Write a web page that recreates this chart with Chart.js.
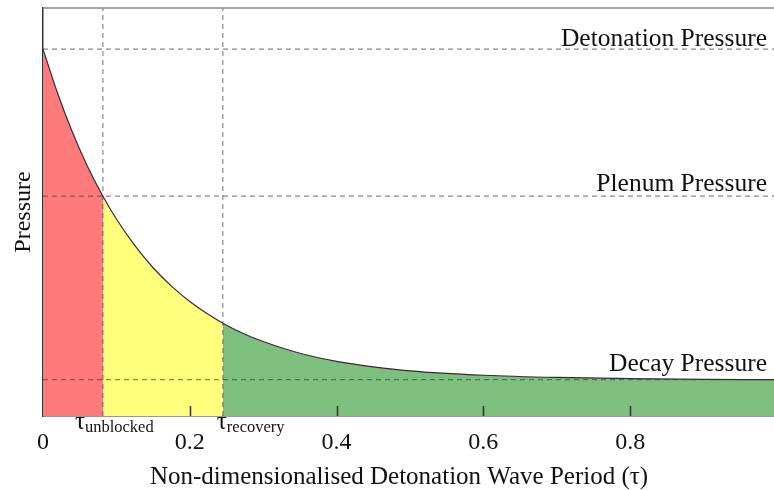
<!DOCTYPE html>
<html>
<head>
<meta charset="utf-8">
<script src="https://cdn.jsdelivr.net/npm/chart.js@4.4.1/dist/chart.umd.min.js"></script>
<style>
  html, body { margin: 0; padding: 0; background: #ffffff; }
  #wrap { width: 774px; height: 490px; position: relative; }
</style>
</head>
<body>
<div id="wrap"><canvas id="c" width="774" height="490"></canvas></div>
<script>
// ---- data ----
const tau = [0, 0.02, 0.04, 0.06, 0.0816, 0.1, 0.125, 0.15, 0.175, 0.2, 0.225, 0.245,
             0.275, 0.3, 0.35, 0.4, 0.45, 0.5, 0.6, 0.7, 0.8, 0.9, 0.996];
const pressure = [1.000, 0.879, 0.774, 0.683, 0.599, 0.537, 0.465, 0.404, 0.354, 0.312, 0.277, 0.253,
                  0.223, 0.203, 0.171, 0.149, 0.134, 0.123, 0.111, 0.105, 0.102, 0.100, 0.099];
const tauUnblocked = 0.0816;
const tauRecovery = 0.245;
const levelNames = ["Detonation Pressure", "Plenum Pressure", "Decay Pressure"];
const levelValues = [1.0, 0.599, 0.099];
const xTickValues = [0, 0.2, 0.4, 0.6, 0.8];
const xTickLabels = ["0", "0.2", "0.4", "0.6", "0.8"];
const xMin = 0, xMax = 0.996;
const yMin = 0, yMax = 1.112;
const xTitle = "Non-dimensionalised Detonation Wave Period (\u03C4)";
const yTitle = "Pressure";
const tauLabels = [["\u03C4", "unblocked"], ["\u03C4", "recovery"]];

// ---- build datasets ----
const pts = tau.map((t, i) => ({ x: t, y: pressure[i] }));
const iU = tau.indexOf(tauUnblocked);
const iR = tau.indexOf(tauRecovery);
const SERIF = "'Liberation Serif', 'Times New Roman', serif";

function fillSet(data, color) {
  return { data, backgroundColor: color, borderWidth: 0, pointRadius: 0, fill: 'origin',
           cubicInterpolationMode: 'monotone', order: 5 };
}
const dashColor = 'rgba(60,60,60,0.6)';
function dashSet(data) {
  return { data, borderColor: dashColor, borderWidth: 1.2, borderDash: [5, 4], pointRadius: 0,
           fill: false, order: 1 };
}

const datasets = [
  fillSet(pts.slice(0, iU + 1), '#ff7b7b'),
  fillSet(pts.slice(iU, iR + 1), '#ffff7b'),
  fillSet(pts.slice(iR), '#7dbf7d'),
  { data: pts, borderColor: '#3a2838', borderWidth: 1.2, pointRadius: 0, fill: false,
    cubicInterpolationMode: 'monotone', order: 3 },
  ...levelValues.map(v => dashSet([{ x: xMin, y: v }, { x: xMax, y: v }])),
  dashSet([{ x: tauUnblocked, y: yMin }, { x: tauUnblocked, y: yMax }]),
  dashSet([{ x: tauRecovery, y: yMin }, { x: tauRecovery, y: yMax }])
];

const decor = {
  id: 'decor',
  afterDatasetsDraw(chart) {
    const { ctx, chartArea: a, scales: { x, y } } = chart;
    ctx.save();
    // top frame line
    ctx.strokeStyle = '#8a8a8a'; ctx.lineWidth = 1.5;
    ctx.beginPath(); ctx.moveTo(a.left, a.top); ctx.lineTo(a.right, a.top); ctx.stroke();
    // inward tick marks
    ctx.strokeStyle = '#333'; ctx.lineWidth = 1.5;
    xTickValues.forEach(v => {
      if (v === 0) return;
      const px = Math.round(x.getPixelForValue(v)) + 0.5;
      ctx.beginPath(); ctx.moveTo(px, a.bottom); ctx.lineTo(px, a.bottom - 10); ctx.stroke();
    });
    // level labels
    ctx.fillStyle = '#111';
    ctx.font = '25.5px ' + SERIF;
    ctx.textAlign = 'right'; ctx.textBaseline = 'alphabetic';
    const lift = [3, 5, 9];
    levelNames.forEach((n, i) => {
      ctx.fillText(n, a.right - 7, y.getPixelForValue(levelValues[i]) - lift[i]);
    });
    // tau labels
    ctx.textAlign = 'left';
    const tx = [tauUnblocked, tauRecovery];
    const dx = [-28, -6];
    tauLabels.forEach((lab, i) => {
      const px = x.getPixelForValue(tx[i]) + dx[i];
      ctx.font = '25px ' + SERIF;
      ctx.fillText(lab[0], px, a.bottom + 13);
      const w = ctx.measureText(lab[0]).width;
      ctx.font = '16.5px ' + SERIF;
      ctx.fillText(lab[1], px + w, a.bottom + 16);
    });
    // x title
    ctx.font = '25px ' + SERIF;
    ctx.textAlign = 'center';
    ctx.fillText(xTitle, 399, 484);
    ctx.restore();
  }
};

new Chart(document.getElementById('c'), {
  type: 'line',
  data: { datasets },
  options: {
    responsive: false,
    animation: false,
    events: [],
    layout: { padding: { top: 8, right: 0, left: 0, bottom: 0 } },
    plugins: { legend: { display: false }, tooltip: { enabled: false } },
    scales: {
      x: {
        type: 'linear', min: xMin, max: xMax,
        afterBuildTicks: s => { s.ticks = xTickValues.map(v => ({ value: v })); },
        afterFit: s => { s.height = 74; },
        grid: { display: false, drawTicks: false },
        border: { display: true, color: '#333', width: 1.5 },
        ticks: {
          padding: 12, color: '#111', maxRotation: 0, autoSkip: false,
          font: { family: SERIF, size: 24 },
          callback: (v) => { const k = xTickValues.indexOf(v); return k >= 0 ? xTickLabels[k] : null; }
        }
      },
      y: {
        type: 'linear', min: yMin, max: yMax,
        afterFit: s => { s.width = 43; },
        grid: { display: false, drawTicks: false },
        border: { display: true, color: '#333', width: 1.5 },
        ticks: { display: false },
        title: { display: true, text: yTitle, color: '#111', font: { family: SERIF, size: 24 },
                 padding: { top: 9, bottom: 0 } }
      }
    }
  },
  plugins: [decor]
});
</script>
</body>
</html>
